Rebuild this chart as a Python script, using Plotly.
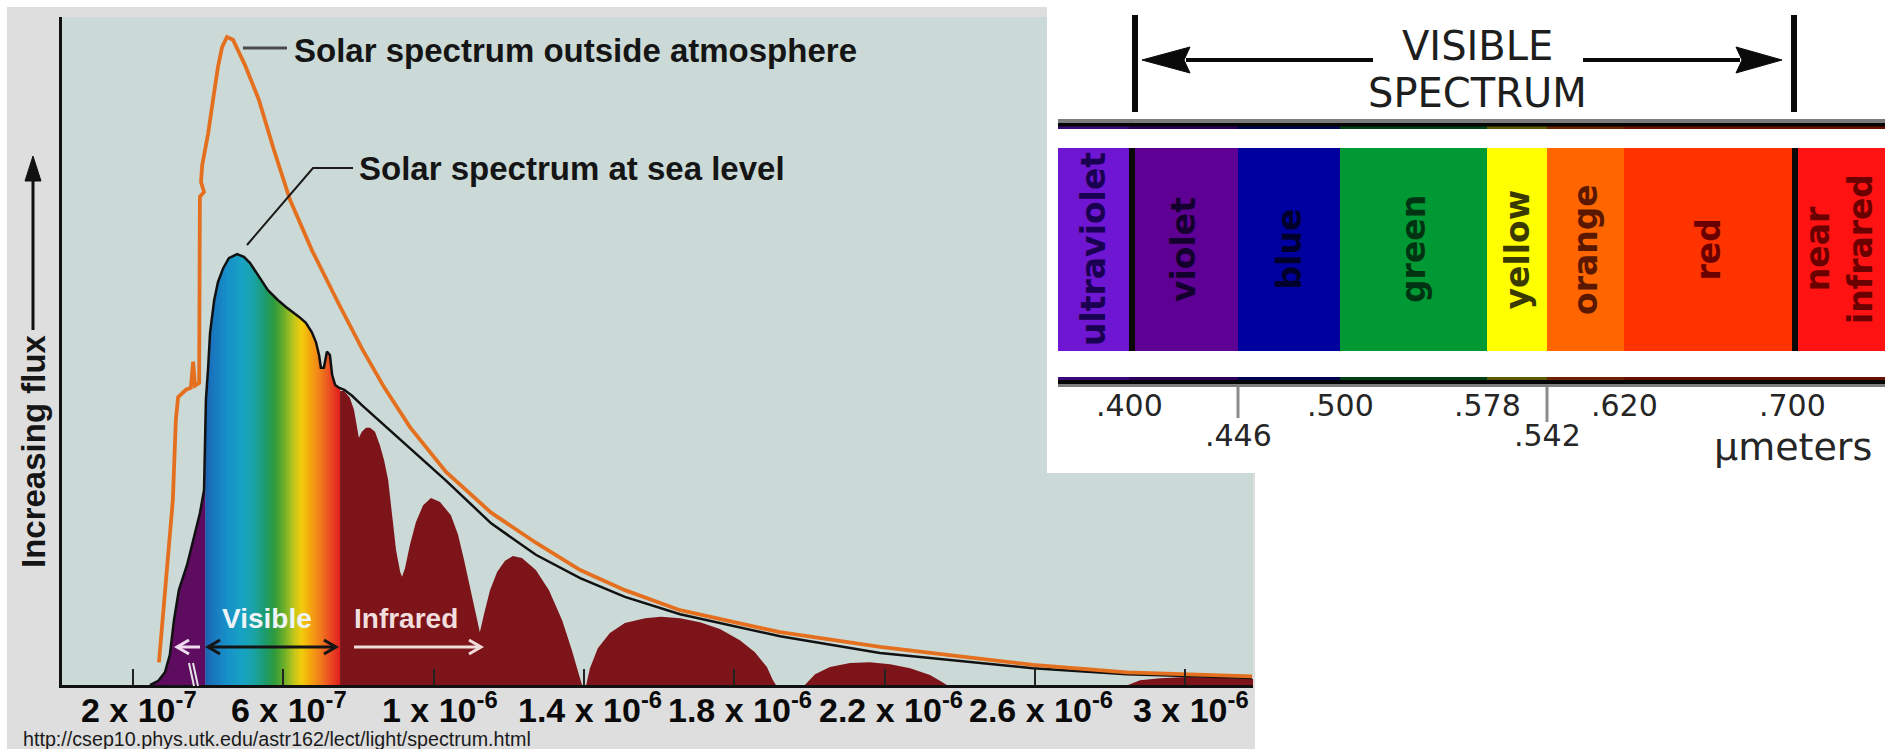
import numpy as np
import plotly.graph_objects as go

W, H = 1895, 749

# ---------------- solar spectrum (wavelength in micrometres, relative flux) ----------------
# spectrum outside the atmosphere (orange curve)
toa_wl = [0.269, 0.288, 0.306, 0.314, 0.320, 0.341, 0.354, 0.360, 0.365, 0.376, 0.378, 0.378,
          0.389, 0.381, 0.384, 0.392, 0.400, 0.413, 0.426, 0.437, 0.450, 0.466, 0.498, 0.535,
          0.575, 0.618, 0.676, 0.748, 0.809, 0.868, 0.937, 1.033, 1.153, 1.272, 1.390, 1.509,
          1.656, 1.922, 2.188, 2.401, 2.595, 2.845, 3.178]
toa_flux = [3.4, 15.7, 27.7, 39.7, 43.1, 44.2, 44.5, 48.4, 44.8, 45.2, 57.6, 73.1,
            73.8, 75.3, 77.8, 80.1, 82.6, 87.6, 92.5, 95.5, 97.0, 96.6, 92.8, 87.6,
            80.1, 72.6, 65.1, 57.0, 50.4, 44.6, 38.6, 31.9, 25.8, 21.3, 17.2, 14.2,
            11.2, 7.9, 5.7, 4.3, 3.0, 1.9, 1.3]

# spectrum at sea level (black outline)
sea_wl = [0.245, 0.267, 0.285, 0.298, 0.309, 0.322, 0.344, 0.365, 0.378, 0.389, 0.392, 0.394,
          0.400, 0.405, 0.416, 0.426, 0.440, 0.455, 0.477, 0.495, 0.511, 0.533, 0.559, 0.586,
          0.607, 0.642, 0.660, 0.676, 0.687, 0.695, 0.700, 0.708, 0.716, 0.724, 0.730, 0.738,
          0.748, 0.762, 0.783, 0.809, 0.868, 0.916, 0.977, 1.033, 1.153, 1.272, 1.390, 1.509,
          1.656, 1.922, 2.188, 2.401, 2.595, 2.845, 3.178]
sea_flux = [0.0, 0.6, 1.9, 4.5, 9.7, 14.2, 18.0, 22.5, 25.7, 29.2, 36.7, 42.7,
            47.6, 52.7, 57.6, 60.3, 62.4, 63.9, 64.5, 64.1, 63.2, 61.4, 59.1, 57.6,
            56.6, 55.1, 54.2, 52.8, 51.3, 49.4, 47.5, 47.5, 49.9, 49.4, 46.4, 44.9,
            44.5, 44.2, 43.3, 41.9, 38.9, 36.4, 33.4, 30.6, 24.2, 19.5, 16.0, 13.2,
            10.6, 7.3, 4.8, 3.6, 2.5, 1.6, 1.05]

# infrared flux left between the absorption bands (dark red areas)
ir_a_wl = [0.751, 0.751, 0.762, 0.777, 0.788, 0.796, 0.801, 0.809, 0.820, 0.831, 0.844, 0.857,
           0.868, 0.879, 0.889, 0.900, 0.911, 0.916, 0.924, 0.937, 0.953, 0.972, 0.993, 1.017,
           1.046, 1.065, 1.081, 1.097, 1.113, 1.123, 1.134, 1.150, 1.169, 1.190, 1.211, 1.235,
           1.272, 1.307, 1.342, 1.368, 1.387, 1.395]
ir_a_flux = [0.0, 44.0, 44.0, 43.0, 41.2, 38.9, 37.0, 37.9, 38.5, 38.5, 37.9, 35.9,
             33.7, 30.7, 25.4, 20.2, 16.9, 16.2, 17.5, 21.0, 24.4, 26.9, 28.0, 27.4,
             25.4, 22.5, 18.7, 14.5, 10.8, 7.9, 10.6, 14.2, 16.9, 18.6, 19.3, 19.0,
             17.2, 14.2, 9.7, 5.2, 1.5, 0.0]
ir_b_wl = [1.406, 1.416, 1.437, 1.469, 1.509, 1.563, 1.605, 1.656, 1.709, 1.762, 1.815, 1.855,
           1.887, 1.903, 1.911]
ir_b_flux = [0.0, 2.5, 5.5, 7.8, 9.3, 10.0, 10.2, 10.0, 9.4, 8.4, 6.7, 4.9, 2.7, 0.7, 0.0]
ir_c_wl = [1.988, 2.015, 2.055, 2.108, 2.161, 2.215, 2.268, 2.321, 2.353, 2.366]
ir_c_flux = [0.0, 1.6, 2.7, 3.3, 3.4, 3.1, 2.5, 1.5, 0.45, 0.0]
ir_d_wl = [2.848, 2.880, 2.933, 3.005, 3.093, 3.181, 3.181]
ir_d_flux = [0.0, 0.7, 1.0, 1.2, 1.1, 0.9, 0.0]

# colour stops of the visible band under the sea-level curve
vis_wl = [0.392, 0.41, 0.45, 0.49, 0.52, 0.55, 0.575, 0.60, 0.625, 0.65, 0.675, 0.70, 0.725, 0.751]
vis_colors = ["#1b5fae", "#1a74bd", "#1790c8", "#17a2c4", "#1aa3a8", "#1c9b6e", "#2e9a3c",
              "#6aae2a", "#b9c51c", "#f2cc0b", "#f5a20f", "#f07a1c", "#ea4b22", "#e11f1e"]

xtick_vals = [0.2, 0.6, 1.0, 1.4, 1.8, 2.2, 2.6, 3.0]
xtick_text = ["2 x 10<sup>-7</sup>", "6 x 10<sup>-7</sup>", "1 x 10<sup>-6</sup>",
              "1.4 x 10<sup>-6</sup>", "1.8 x 10<sup>-6</sup>", "2.2 x 10<sup>-6</sup>",
              "2.6 x 10<sup>-6</sup>", "3 x 10<sup>-6</sup>"]

# ---------------- visible spectrum strip ----------------
band_names = ["ultraviolet", "violet", "blue", "green", "yellow", "orange", "red", "near<br>infrared"]
band_widths = [71, 109, 102, 147, 60, 77, 168, 93]
band_colors = ["#6e16d2", "#5f0094", "#00009e", "#009933", "#ffff00", "#ff6600", "#ff3300", "#ff1212"]
band_ink = ["#1a0050", "#14002c", "#00002a", "#003312", "#3a3a00", "#5a1800", "#6a0000", "#6a0000"]
band_rule = ["#3a0a7a", "#2c0058", "#000050", "#004015", "#5a5a00", "#6a2500", "#6a1000", "#6a1000"]
edge_labels = [".400", ".446", ".500", ".578", ".542", ".620", ".700"]
edge_row = [0, 1, 0, 0, 1, 0, 0]

edges = np.concatenate([[0], np.cumsum(band_widths)])
centers = (edges[:-1] + edges[1:]) / 2


def px(x):
    return x / W


def py(y):
    return 1 - y / H


BG_OUT = "#dedede"
BG_IN = "#cbdad7"
DARK_RED = "#7c1419"
ARIAL = "Liberation Sans, Arial, sans-serif"
DV = "DejaVu Sans, Verdana, sans-serif"

fig = go.Figure()

# visible colour gradient, trimmed afterwards by a mask above the sea-level outline
grid = np.linspace(vis_wl[0], vis_wl[-1], 137)
mid = (grid[:-1] + grid[1:]) / 2
span = vis_wl[-1] - vis_wl[0]
cscale = [[(w - vis_wl[0]) / span, c] for w, c in zip(vis_wl, vis_colors)]
fig.add_trace(go.Heatmap(x=grid, y=[0, 100], z=[mid], colorscale=cscale, zmin=vis_wl[0],
                         zmax=vis_wl[-1], showscale=False, hoverinfo="skip"))

vis_pts = [(w, f) for w, f in zip(sea_wl, sea_flux) if vis_wl[0] <= w <= vis_wl[-1]]
mask_x = [p[0] for p in vis_pts] + [0.755, 0.755, 0.386, 0.386]
mask_y = [p[1] for p in vis_pts] + [44.4, 101, 101, 38.0]
fig.add_trace(go.Scatter(x=mask_x, y=mask_y, fill="toself", fillcolor=BG_IN, mode="lines",
                         line=dict(width=0, color=BG_IN), hoverinfo="skip"))

# ultraviolet part under the curve
uv_pts = [(w, f) for w, f in zip(sea_wl, sea_flux) if w <= vis_wl[0]]
fig.add_trace(go.Scatter(x=[p[0] for p in uv_pts] + [vis_wl[0]],
                         y=[p[1] for p in uv_pts] + [0],
                         fill="toself", fillcolor="#5e0c5f", mode="lines",
                         line=dict(width=0, color="#5e0c5f"), hoverinfo="skip"))

# infrared windows
for wl, fl in [(ir_a_wl, ir_a_flux), (ir_b_wl, ir_b_flux), (ir_c_wl, ir_c_flux), (ir_d_wl, ir_d_flux)]:
    fig.add_trace(go.Scatter(x=wl, y=fl, fill="toself", fillcolor=DARK_RED, mode="lines",
                             line=dict(width=0, color=DARK_RED), hoverinfo="skip"))

fig.add_trace(go.Scatter(x=sea_wl, y=sea_flux, mode="lines",
                         line=dict(color="#111111", width=2.5), hoverinfo="skip"))
fig.add_trace(go.Scatter(x=toa_wl, y=toa_flux, mode="lines",
                         line=dict(color="#e4701f", width=3.8), hoverinfo="skip"))

# colour bands of the visible spectrum
fig.add_trace(go.Bar(x=centers, y=[1] * len(band_names), width=band_widths,
                     marker=dict(color=band_colors, line=dict(width=0)),
                     xaxis="x2", yaxis="y2", hoverinfo="skip"))

shapes = []


def rect(x0, y0, x1, y1, color, layer="above", xref="paper", yref="paper"):
    shapes.append(dict(type="rect", xref=xref, yref=yref, x0=x0, x1=x1, y0=y0, y1=y1,
                       fillcolor=color, line=dict(width=0), layer=layer))


def path(points, color, width, fill=None):
    d = "M " + " L ".join(f"{px(x):.6f},{py(y):.6f}" for x, y in points)
    if fill:
        d += " Z"
    shapes.append(dict(type="path", xref="paper", yref="paper", path=d,
                       line=dict(color=color, width=width),
                       fillcolor=fill if fill else "rgba(0,0,0,0)", layer="above"))


# backgrounds
rect(px(7), py(749), px(1255), py(7), BG_OUT, layer="below")
rect(px(62), py(685), px(1253), py(17), BG_IN, layer="below")
rect(px(1047), py(473), 1, 1, "#ffffff", layer="below")

# leader lines for the curve labels
path([(243, 48), (287, 48)], "#4a4a4a", 3)
path([(353, 168), (313, 168), (247, 245)], "#1a1a1a", 2)

# y-axis arrow
path([(33, 330), (33, 176)], "#111111", 3)
path([(33, 156), (25, 181), (41, 181)], "#111111", 1, fill="#111111")

# range arrows inside the plot
path([(208, 647), (336, 647)], "#151515", 3)
path([(220, 640), (208, 647), (220, 654)], "#151515", 3)
path([(324, 640), (336, 647), (324, 654)], "#151515", 3)
path([(354, 647), (481, 647)], "#f1dcdc", 3)
path([(469, 640), (481, 647), (469, 654)], "#f1dcdc", 3)
path([(177, 647), (200, 647)], "#f0dcee", 3)
path([(189, 640), (177, 647), (189, 654)], "#f0dcee", 3)
# axis break mark
path([(189, 663), (194, 686)], "#e4e4e4", 2)
path([(193, 663), (198, 686)], "#e4e4e4", 2)

# visible spectrum: horizontal rules above and below the strip
rect(px(1058), py(123), px(1885), py(119), "#7d7d7d")
rect(px(1058), py(129), px(1885), py(123), "#050505")
rect(px(1058), py(384), px(1885), py(380), "#050505")
rect(px(1058), py(387), px(1885), py(384), "#7d7d7d")
for i in range(len(band_names)):
    rect(edges[i], py(129), edges[i + 1], py(126.5), band_rule[i], xref="x2")
    rect(edges[i], py(380), edges[i + 1], py(377), band_rule[i], xref="x2")
# black dividers at the edges of the visible range
rect(edges[1], 0, edges[1] + 6, 1, "#080808", xref="x2", yref="y2")
rect(edges[7], 0, edges[7] + 6, 1, "#080808", xref="x2", yref="y2")
# tick marks for the lower label row
rect(edges[2] - 1.5, py(418), edges[2] + 1.5, py(387), "#8c8c8c", xref="x2")
rect(edges[5] - 1.5, py(422), edges[5] + 1.5, py(387), "#8c8c8c", xref="x2")

# "visible spectrum" bracket
rect(px(1132), py(112), px(1138), py(15), "#0a0a0a")
rect(px(1791), py(112), px(1797), py(15), "#0a0a0a")
rect(px(1186), py(62), px(1373), py(58), "#0a0a0a")
rect(px(1583), py(62), px(1740), py(58), "#0a0a0a")
path([(1142, 60), (1190, 47), (1184, 60), (1190, 73)], "#0a0a0a", 1, fill="#0a0a0a")
path([(1782, 60), (1736, 47), (1742, 60), (1736, 73)], "#0a0a0a", 1, fill="#0a0a0a")

annotations = []


def label(text, x, y, size, color="#151515", family=ARIAL, xanchor="center", yanchor="middle",
          angle=0, xref="paper"):
    annotations.append(dict(text=text, x=x, y=y, xref=xref, yref="paper", showarrow=False,
                            xanchor=xanchor, yanchor=yanchor, textangle=angle,
                            font=dict(family=family, size=size, color=color)))


# wavelength tick labels under the axis
for val, txt in zip(xtick_vals, xtick_text):
    label("<b>" + txt + "</b>", val + 0.016, py(684), 34, color="#0a0a0a", xref="x",
          yanchor="top")

label("<b>Solar spectrum outside atmosphere</b>", px(292), py(50), 33, xanchor="left")
label("<b>Solar spectrum at sea level</b>", px(357), py(168), 33, xanchor="left")
label("<b>Increasing flux</b>", px(33), py(451), 33, angle=-90)
label("<b>Visible</b>", px(267), py(618), 28, color="#eef3f8")
label("<b>Infrared</b>", px(406), py(618), 28, color="#f3dede")
label("http://csep10.phys.utk.edu/astr162/lect/light/spectrum.html", px(21), py(739), 19.7,
      color="#1a1a1a", xanchor="left")

label("VISIBLE", px(1477), py(46), 40, color="#1e1e1e", family=DV)
label("SPECTRUM", px(1477), py(93), 40, color="#1e1e1e", family=DV)
for i, name in enumerate(band_names):
    annotations.append(dict(text="<b>" + name + "</b>", x=centers[i], y=0.5, xref="x2", yref="y2",
                            showarrow=False, textangle=-90, xanchor="center", yanchor="middle",
                            font=dict(family=DV, size=33, color=band_ink[i])))
for i, txt in enumerate(edge_labels):
    label(txt, edges[i + 1], py(405 if edge_row[i] == 0 else 435), 30, color="#262626",
          family=DV, xref="x2")
label("\u00b5meters", px(1793), py(447), 38, color="#262626", family=DV)

fig.update_layout(
    width=W, height=H, autosize=False, margin=dict(l=0, r=0, t=0, b=0),
    paper_bgcolor="#ffffff", plot_bgcolor="rgba(0,0,0,0)", showlegend=False,
    shapes=shapes, annotations=annotations,
    xaxis=dict(domain=[px(62), px(1253)], range=[0.011, 3.1806], tickvals=xtick_vals,
               showticklabels=False, ticks="inside", ticklen=16, tickwidth=2, tickcolor="#222222",
               showline=True, linecolor="#111111", linewidth=3, showgrid=False, zeroline=False,
               anchor="y", fixedrange=True),
    yaxis=dict(domain=[py(685), py(17)], range=[0, 100], showline=True, linecolor="#111111",
               linewidth=3, showticklabels=False, ticks="", showgrid=False, zeroline=False,
               anchor="x", fixedrange=True),
    xaxis2=dict(domain=[px(1058), px(1885)], range=[0, edges[-1]], visible=False,
                anchor="y2", fixedrange=True),
    yaxis2=dict(domain=[py(351), py(148)], range=[0, 1], visible=False, anchor="x2",
                fixedrange=True),
)

fig.write_html("out.html", config={"displayModeBar": False})
